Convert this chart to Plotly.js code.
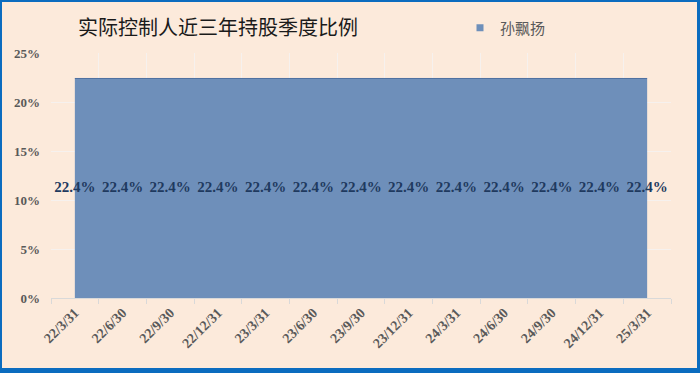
<!DOCTYPE html>
<html>
<head>
<meta charset="utf-8">
<script src="https://cdn.plot.ly/plotly-3.0.1.min.js"></script>
<style>
  html, body { margin: 0; padding: 0; width: 700px; height: 373px; background: #0B6CBF; overflow: hidden; }
  #chart { position: absolute; left: 2px; top: 2px; width: 695px; height: 366px; }
</style>
</head>
<body>
<div id="chart"></div>
<script>
const categories = ["22/3/31","22/6/30","22/9/30","22/12/31","23/3/31","23/6/30","23/9/30","23/12/31","24/3/31","24/6/30","24/9/30","24/12/31","25/3/31"];
const seriesName = "孙飘扬";
const values = [22.4,22.4,22.4,22.4,22.4,22.4,22.4,22.4,22.4,22.4,22.4,22.4,22.4];
const yTicks = [0,5,10,15,20,25];
const titleText = "实际控制人近三年持股季度比例";

const areaColor = "#6E8FBA";
const serif = "Liberation Serif, Times New Roman, serif";

const traces = [
  {
    type: "scatter", mode: "lines", x: categories, y: values,
    fill: "tozeroy", fillcolor: areaColor,
    line: { color: "#4D70A0", width: 1 },
    showlegend: false, hoverinfo: "skip"
  },
  {
    type: "scatter", mode: "text", x: categories, y: values.map(v => v / 2),
    text: values.map(v => v.toFixed(1) + "%"),
    textposition: "middle center",
    textfont: { family: serif, size: 15, color: "#1F3A5F", weight: "bold" },
    showlegend: false, hoverinfo: "skip", cliponaxis: false
  },
  {
    type: "scatter", mode: "markers", x: [null], y: [null], name: seriesName,
    marker: { symbol: "square", size: 7, color: areaColor }
  }
];

const layout = {
  width: 695, height: 366,
  margin: { l: 49, r: 26, t: 51, b: 70 },
  paper_bgcolor: "#FCEADB", plot_bgcolor: "#FCEADB",
  title: {
    text: titleText, xref: "container", yref: "container",
    x: 76 / 695, xanchor: "left", y: 1 - 26 / 366, yanchor: "middle",
    font: { family: "Noto Sans CJK SC", size: 20, color: "#1A1A1A" }
  },
  showlegend: true,
  legend: {
    orientation: "h", xref: "container", yref: "container",
    x: 458 / 695, xanchor: "left", y: 1 - 26 / 366, yanchor: "middle",
    bgcolor: "rgba(0,0,0,0)",
    font: { family: "Noto Sans CJK SC", size: 15, color: "#595959" }
  },
  xaxis: {
    type: "category", tickson: "boundaries",
    range: [-0.5, categories.length - 0.5],
    showgrid: true, gridcolor: "#F6F1EE", gridwidth: 1,
    showline: true, linecolor: "#D9D9D9", linewidth: 1,
    ticks: "outside", ticklen: 5, tickcolor: "#D9D9D9",
    tickangle: -45,
    tickfont: { family: serif, size: 14, color: "#595959", weight: "bold" },
    zeroline: false, fixedrange: true
  },
  yaxis: {
    range: [0, 25], tickvals: yTicks, ticktext: yTicks.map(v => v + "%"),
    showgrid: true, gridcolor: "#F6F1EE", gridwidth: 1,
    showline: false, zeroline: false, ticks: "",
    ticklabelstandoff: 10,
    tickfont: { family: serif, size: 13, color: "#595959", weight: "bold" },
    fixedrange: true
  }
};

Plotly.newPlot("chart", traces, layout, { displayModeBar: false, staticPlot: true });
</script>
</body>
</html>
